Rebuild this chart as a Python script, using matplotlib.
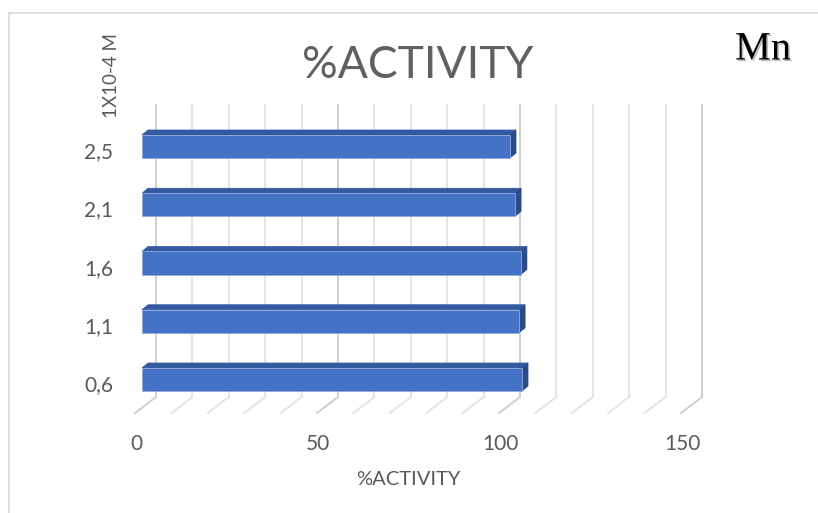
import matplotlib.pyplot as plt
import matplotlib.patheffects as pe
from matplotlib.patches import Polygon, Rectangle
import numpy as np

# data
categories = ['0,6', '1,1', '1,6', '2,1', '2,5']
activity = [104.4, 103.6, 104.1, 102.5, 101.1]
x_ticks = [0, 50, 100, 150]
grid_values = list(range(0, 151, 10))

FACE = '#4472C4'
TOP = '#3359A0'
SIDE = '#2B4B86'
TXT = '#595959'

# fake 3D geometry (data units)
depth_x, depth_y = 5.77, 0.275       # full floor depth
front_x = -1.92                      # front plane relative to bar front face
floor_y = -0.575
wall_top = 4.71
bar_h = 0.395
bar_dx, bar_dy = 1.65, 0.086

fig = plt.figure(figsize=(8.18, 5.13), dpi=100)
ax = fig.add_axes([0, 0, 1, 1])
ax.set_xlim(-142 / 3.64, (818 - 142) / 3.64)
ax.set_ylim((379.5 - 513) / 58.25, 379.5 / 58.25)
ax.axis('off')

# chart border (top and left edges only visible)
fig.patches.append(Rectangle((9 / 818, -0.05), 1.2, (513 - 13) / 513 + 0.05,
                             transform=fig.transFigure, fill=False,
                             edgecolor='#D9D9D9', linewidth=1.2))

# back wall and floor grid
for v in grid_values:
    col = '#CFCFCF' if v % 50 == 0 else '#E4E4E4'
    bx = v + front_x + depth_x
    ax.plot([bx, bx], [floor_y + depth_y, wall_top], color=col, lw=1.4, zorder=1)
    ax.plot([v + front_x, bx], [floor_y, floor_y + depth_y], color=col, lw=1.4, zorder=1)

# bars
idx = np.arange(len(categories))
for i, val in zip(idx, activity):
    top = i + bar_h / 2
    bot = i - bar_h / 2
    ax.add_patch(Polygon([(0, top), (val, top), (val + bar_dx, top + bar_dy),
                          (bar_dx, top + bar_dy)], closed=True,
                         facecolor=TOP, edgecolor=TOP, lw=0.5, zorder=2))
    ax.add_patch(Polygon([(val, bot), (val + bar_dx, bot + bar_dy),
                          (val + bar_dx, top + bar_dy), (val, top)], closed=True,
                         facecolor=SIDE, edgecolor=SIDE, lw=0.5, zorder=2))
ax.barh(idx, activity, height=bar_h, left=0, color=FACE,
        edgecolor='#8FAADC', linewidth=0.6, zorder=3)

# tick labels
for v in x_ticks:
    ax.text(v - 1.6, (379.5 - 444) / 58.25, str(v), ha='center', va='center',
            fontsize=15, color=TXT, family='Lato')
for i, lab in zip(idx, categories):
    ax.text(-7.97, i - 0.1, lab, ha='right', va='center',
            fontsize=15, color=TXT, family='Lato')

ax.text(73.1, -1.725, '%ACTIVITY', ha='center', va='center',
        fontsize=14.5, color=TXT, family='Lato')
fig.text(111.5 / 818, 1 - 76 / 513, '1X10-4 M', rotation=90, ha='center',
         va='center', fontsize=13.5, color=TXT, family='Lato')
fig.text(418 / 818, 1 - 66 / 513, '%ACTIVITY', ha='center', va='center',
         fontsize=32, color='#606060', family='Lato')
fig.text(763 / 818, 1 - 50 / 513, 'Mn', ha='center', va='center',
         fontsize=29, color='black', family='Liberation Serif',
         path_effects=[pe.withSimplePatchShadow(offset=(1.2, -1.2),
                                                shadow_rgbFace='#808080', alpha=0.5)])

fig.savefig('out.png', dpi=100)
